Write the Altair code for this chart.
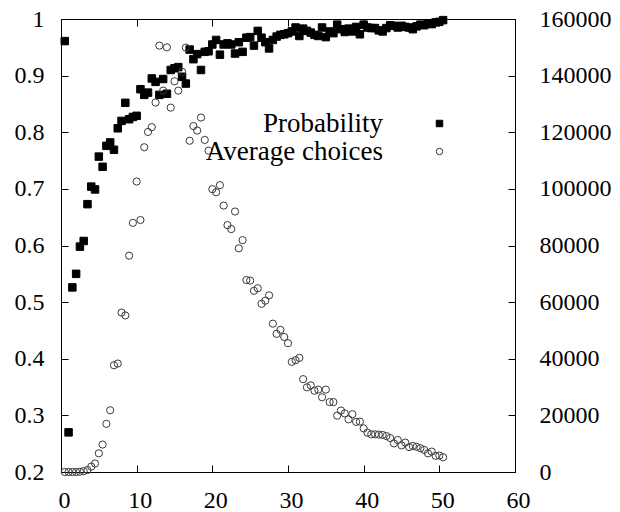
import altair as alt
import pandas as pd

# sample grid (x)
x_vals = [0.5, 1.0, 1.5, 2.0, 2.5, 3.0, 3.5, 4.0, 4.5, 5.0,
          5.5, 6.0, 6.5, 7.0, 7.5, 8.0, 8.5, 9.0, 9.5, 10.0,
          10.5, 11.0, 11.5, 12.0, 12.5, 13.0, 13.5, 14.0, 14.5, 15.0,
          15.5, 16.0, 16.5, 17.0, 17.5, 18.0, 18.5, 19.0, 19.5, 20.0,
          20.5, 21.0, 21.5, 22.0, 22.5, 23.0, 23.5, 24.0, 24.5, 25.0,
          25.5, 26.0, 26.5, 27.0, 27.5, 28.0, 28.5, 29.0, 29.5, 30.0,
          30.5, 31.0, 31.5, 32.0, 32.5, 33.0, 33.5, 34.0, 34.5, 35.0,
          35.5, 36.0, 36.5, 37.0, 37.5, 38.0, 38.5, 39.0, 39.5, 40.0,
          40.5, 41.0, 41.5, 42.0, 42.5, 43.0, 43.5, 44.0, 44.5, 45.0,
          45.5, 46.0, 46.5, 47.0, 47.5, 48.0, 48.5, 49.0, 49.5, 50.0,
          50.5]

probability = [0.961, 0.270, 0.526, 0.550, 0.598, 0.608, 0.673, 0.704, 0.699, 0.757,
               0.739, 0.776, 0.782, 0.769, 0.807, 0.820, 0.852, 0.823, 0.827, 0.829,
               0.876, 0.866, 0.870, 0.895, 0.889, 0.866, 0.894, 0.868, 0.910, 0.913,
               0.915, 0.898, 0.886, 0.946, 0.929, 0.938, 0.910, 0.942, 0.943, 0.955,
               0.963, 0.937, 0.955, 0.957, 0.955, 0.939, 0.959, 0.942, 0.967, 0.968,
               0.953, 0.979, 0.967, 0.959, 0.948, 0.963, 0.969, 0.972, 0.973, 0.975,
               0.978, 0.985, 0.970, 0.983, 0.979, 0.976, 0.972, 0.970, 0.985, 0.968,
               0.978, 0.975, 0.990, 0.982, 0.977, 0.983, 0.978, 0.986, 0.973, 0.990,
               0.985, 0.984, 0.984, 0.980, 0.978, 0.984, 0.989, 0.988, 0.985, 0.988,
               0.986, 0.985, 0.982, 0.987, 0.990, 0.989, 0.992, 0.991, 0.994, 0.995,
               0.998]

avg_choices = [0, 0, 0, 0, 100, 300, 700, 1900, 3000, 6600,
               9700, 17000, 21800, 37700, 38300, 56300, 55300, 76400, 88000, 102600,
               89000, 114700, 120100, 121800, 130500, 150600, 134700, 150000, 128700, 138000,
               134700, 141400, 149900, 117000, 122200, 120600, 125200, 117300, 113500, 99900,
               98800, 101300, 94100, 87200, 85800, 92000, 79000, 81900, 67800, 67600,
               64000, 64900, 59400, 60500, 62400, 52400, 48800, 50200, 47700, 45500,
               38900, 39500, 40300, 32800, 29900, 30600, 28700, 29100, 26400, 29100,
               24700, 24700, 19900, 21700, 20700, 18600, 20400, 17700, 17800, 15400,
               13900, 13300, 13300, 13200, 13100, 12700, 12000, 10100, 11300, 9400,
               10400, 8800, 9200, 8900, 8400, 7800, 6600, 7200, 5700, 5800,
               5200]

series_names = ["Probability", "Average choices"]
x_ticks = [0, 10, 20, 30, 40, 50, 60]
left_ticks = [0.2, 0.3, 0.4, 0.5, 0.6, 0.7, 0.8, 0.9, 1.0]
right_ticks = [0, 20000, 40000, 60000, 80000, 100000, 120000, 140000, 160000]

df_p = pd.DataFrame({"x": x_vals, "value": probability, "series": series_names[0]})
df_a = pd.DataFrame({"x": x_vals, "value": avg_choices, "series": series_names[1]})

FONT = "Liberation Serif"

legend = alt.Legend(
    title=None, orient="none", legendX=365, legendY=91,
    labelFont=FONT, labelFontSize=27, labelColor="black",
    labelAlign="right", labelOffset={"expr": "-70"}, labelLimit=400,
    symbolSize=42, symbolStrokeWidth=1, padding=0, rowPadding=0,
)

shape_enc = alt.Shape("series:N", scale=alt.Scale(domain=series_names, range=["square", "circle"]), legend=legend)
fill_enc = alt.Fill("series:N", scale=alt.Scale(domain=series_names, range=["#000000", "transparent"]), legend=legend)
stroke_enc = alt.Stroke("series:N", scale=alt.Scale(domain=series_names, range=["#000000", "#3a3a3a"]), legend=legend)

x_scale = alt.Scale(domain=[0, 60], nice=False, zero=False)

common_axis = dict(domain=False, grid=False, tickSize=7, offset=-7, tickColor="black",
                   tickWidth=1, labelFont=FONT, labelFontSize=24, labelColor="black", title=None)

sq = alt.Chart(df_p).mark_point(size=56, opacity=1, strokeWidth=1).encode(
    x=alt.X("x:Q", scale=x_scale,
            axis=alt.Axis(orient="bottom", values=x_ticks, labelPadding=16, labelOffset=3,
                          labelFlush=False, **common_axis)),
    y=alt.Y("value:Q", scale=alt.Scale(domain=[0.2, 1.0], nice=False, zero=False),
            axis=alt.Axis(orient="left", values=left_ticks, format="~g", labelPadding=17, **common_axis)),
    shape=shape_enc, fill=fill_enc, stroke=stroke_enc,
)

ci = alt.Chart(df_a).mark_point(size=52, opacity=1, strokeWidth=1).encode(
    x=alt.X("x:Q", scale=x_scale,
            axis=alt.Axis(orient="top", values=x_ticks, labels=False, **common_axis)),
    y=alt.Y("value:Q", scale=alt.Scale(domain=[0, 160000], nice=False, zero=False),
            axis=alt.Axis(orient="right", values=right_ticks, format="d", labelPadding=24, **common_axis)),
    shape=shape_enc, fill=fill_enc, stroke=stroke_enc,
)

chart = alt.layer(sq, ci).resolve_scale(y="independent").resolve_axis(x="independent", y="independent").properties(
    width=454, height=453,
    autosize=alt.AutoSizeParams(type="none"),
    padding={"left": 61, "top": 19, "right": 105, "bottom": 40},
    background="white",
).configure_view(stroke="black", strokeWidth=1)

chart.save("out.html", embed_options={"renderer": "svg", "actions": False})
